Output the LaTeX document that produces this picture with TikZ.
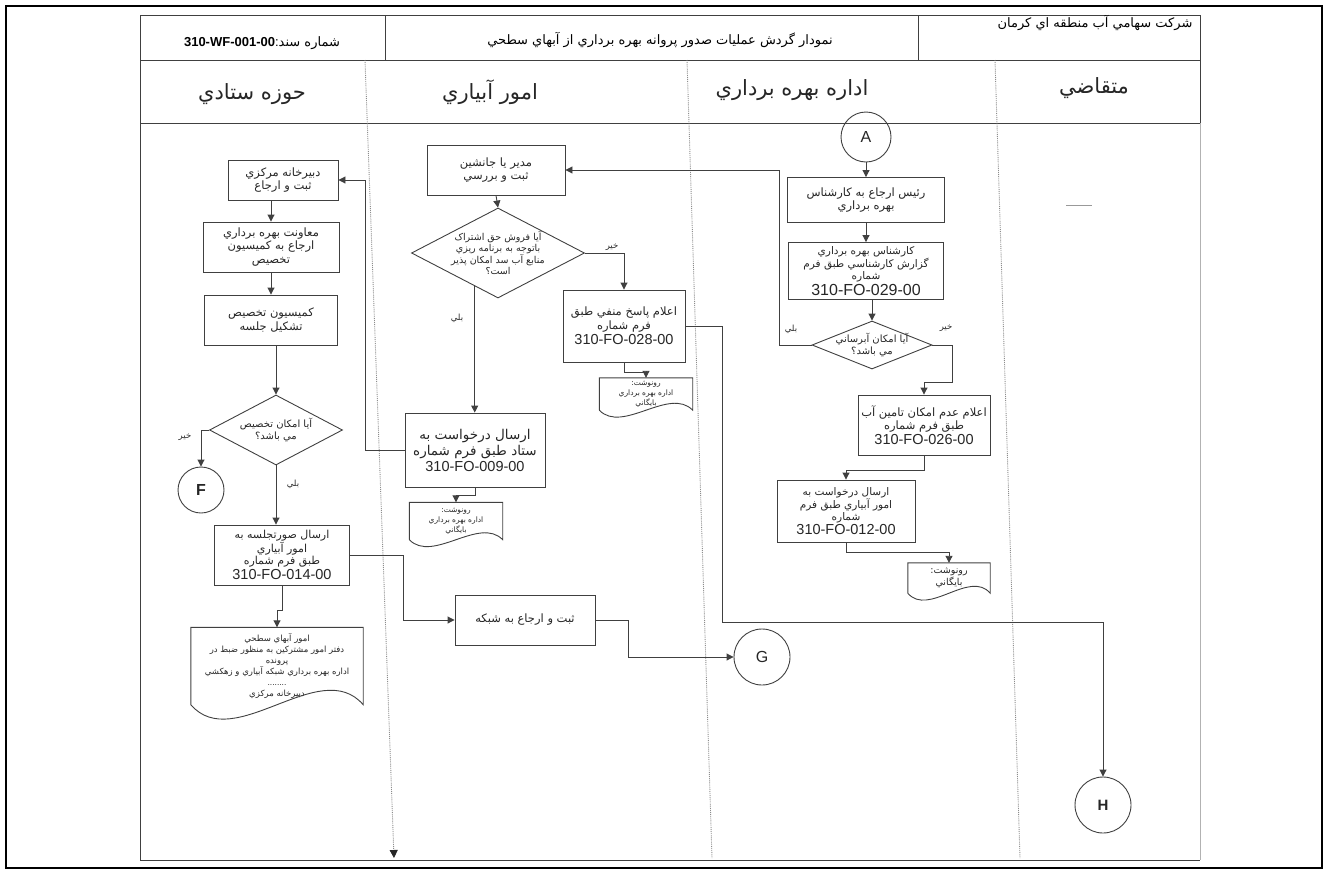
\documentclass[tikz,border=0pt]{standalone}
\usepackage{fontspec}
\setmainfont{Liberation Sans}
\newfontfamily\arabicfont[Script=Arabic]{DejaVu Sans}
\TeXXeTstate=1
\usetikzlibrary{positioning, arrows.meta, shapes.geometric, calc}
\newcommand{\fa}[1]{{\arabicfont\beginR #1\endR}}
\newcommand{\fnum}[1]{{\fontsize{14.5}{16}\selectfont #1}}
\newcommand{\docshape}[2]{%
  \draw[line] (#1.south west) -- (#1.north west) -- (#1.north east) -- (#1.south east)
    .. controls ($(#1.south)!0.5!(#1.south east)+(0,-#2)$) and ($(#1.south)!0.5!(#1.south west)+(0,#2)$) .. (#1.south west);}
\tikzset{
  box/.style={
    draw=black!75,
    rectangle,
    line width=0.9pt,
    align=center,
    inner sep=1pt,
    text=black!85,
    font=\fontsize{11.5}{13.5}\selectfont
  },
  decision/.style={
    draw=black!75,
    diamond,
    line width=0.9pt,
    inner sep=0pt
  },
  dtext/.style={align=center, text=black!85, font=\fontsize{10}{12}\selectfont},
  connector/.style={draw=black!75, circle, line width=0.9pt, text=black!85, font=\fontsize{16}{16}\selectfont},
  docbox/.style={align=center, inner sep=1pt, text=black!85, font=\fontsize{8.5}{11}\selectfont},
  line/.style={draw=black!75, line width=0.9pt},
  flow/.style={line, -{Triangle[length=7pt,width=7pt]}},
  lane/.style={draw=black!45, densely dotted, line width=0.9pt},
  tag/.style={text=black!85, font=\fontsize{8.5}{10}\selectfont},
  lanetitle/.style={text=black!85, font=\fontsize{21}{23}\selectfont}
}

\begin{document}
\begin{tikzpicture}[x=1pt, y=-1pt]
    \useasboundingbox (0,0) rectangle (1328,873);
    \draw[line width=1.6pt] (6,6) rectangle (1322,868);

    % header
    \draw[line] (140,15) rectangle (1200,123);
    \draw[line] (140,60) -- (1200,60);
    \draw[line] (385,15) -- (385,60);
    \draw[line] (918,15) -- (918,60);
    \node[font=\fontsize{13}{15}\selectfont] (docno) at (262,43) {\textbf{310-WF-001-00}:\fa{شماره سند}};
    \node[font=\fontsize{13}{15}\selectfont] (title) at (660,40) {\fa{نمودار گردش عمليات صدور پروانه بهره برداري از آبهاي سطحي}};
    \node[font=\fontsize{13}{15}\selectfont, anchor=east] (company) at (1196,23) {\fa{شرکت سهامي آب منطقه اي کرمان}};

    % lanes
    \node[lanetitle] (staff) at (252,94) {\fa{حوزه ستادي}};
    \node[lanetitle] (irrig) at (490,92) {\fa{امور آبياري}};
    \node[lanetitle] (oper) at (792,90) {\fa{اداره بهره برداري}};
    \node[lanetitle] (client) at (1094,88) {\fa{متقاضي}};
    \draw[line] (140,123) -- (140,860) -- (1200,860);
    \draw[black!30] (1200,123) -- (1200,860);
    \draw[lane, -{Triangle[length=8pt,width=8pt,black!85]}] (365,60) -- (394,858);
    \draw[lane] (687,60) -- (712,858);
    \draw[lane] (995,60) -- (1020,858);
    \draw[black!40] (1066,205) -- (1092,205);

    % حوزه ستادي
    \node[box, minimum width=110, minimum height=40] (dabir) at (283,180) {\fa{دبيرخانه مرکزي}\\\fa{ثبت و ارجاع}};
    \node[box, minimum width=136, minimum height=50] (moaven) at (271,247) {\fa{معاونت بهره برداري}\\\fa{ارجاع به کميسيون}\\\fa{تخصيص}};
    \node[box, minimum width=133, minimum height=50] (komision) at (271,320) {\fa{کميسيون تخصيص}\\\fa{تشکيل جلسه}};
    \node[decision, minimum width=133, minimum height=70] (dia1) at (276,430) {};
    \node[dtext] (dia1txt) at (dia1) {\fa{آيا امکان تخصيص}\\\fa{مي باشد؟}};
    \node[connector, minimum size=46, font=\fontsize{16}{16}\selectfont\bfseries] (fnode) at (201,490) {F};
    \node[box, minimum width=135, minimum height=60, font=\fontsize{11}{12.5}\selectfont] (sorat) at (282,555) {\fa{ارسال صورتجلسه به}\\\fa{امور آبياري}\\\fa{طبق فرم شماره}\\[1pt]\fnum{310-FO-014-00}};
    \node[docbox, minimum width=172, minimum height=77] (doc1) at (277,666) {\fa{امور آبهاي سطحي}\\\fa{دفتر امور مشترکين به منظور ضبط در}\\\fa{پرونده}\\\fa{اداره بهره برداري شبکه آبياري و زهکشي}\\........\\\fa{دبيرخانه مرکزي}};
    \docshape{doc1}{50}

    % امور آبياري
    \node[box, minimum width=138, minimum height=50] (modir) at (496,170) {\fa{مدير يا جانشين}\\\fa{ثبت و بررسي}};
    \node[decision, minimum width=173, minimum height=90] (dia2) at (498,253) {};
    \node[dtext, font=\fontsize{9.5}{11.5}\selectfont] (dia2txt) at (dia2) {\fa{آيا فروش حق اشتراک}\\\fa{باتوجه به برنامه ريزي}\\\fa{منابع آب سد امکان پذير}\\\fa{است؟}};
    \node[box, minimum width=122, minimum height=72] (manfi) at (624,326) {\fa{اعلام پاسخ منفي طبق}\\\fa{فرم شماره}\\[2pt]\fnum{310-FO-028-00}};
    \node[docbox, minimum width=93, minimum height=32, font=\fontsize{7.5}{10}\selectfont] (doc2) at (646,394) {\fa{رونوشت:}\\\fa{اداره بهره برداري}\\\fa{بايگاني}};
    \docshape{doc2}{24}
    \node[box, minimum width=140, minimum height=74, font=\fontsize{13.5}{16}\selectfont] (setad) at (475,450) {\fa{ارسال درخواست به}\\\fa{ستاد طبق فرم شماره}\\\fnum{310-FO-009-00}};
    \node[docbox, minimum width=93, minimum height=37, font=\fontsize{7.5}{10}\selectfont] (doc3) at (456,521) {\fa{رونوشت:}\\\fa{اداره بهره برداري}\\\fa{بايگاني}};
    \docshape{doc3}{24}
    \node[box, minimum width=140, minimum height=50] (shabake) at (525,620) {\fa{ثبت و ارجاع به شبکه}};
    \node[connector, minimum size=56] (gnode) at (762,657) {G};

    % اداره بهره برداري
    \node[connector, minimum size=50] (anode) at (866,137) {A};
    \node[box, minimum width=157, minimum height=45] (rais) at (866,200) {\fa{رئيس ارجاع به کارشناس}\\\fa{بهره برداري}};
    \node[box, minimum width=155, minimum height=57, font=\fontsize{10.5}{11.5}\selectfont] (karshenas) at (866,271) {\fa{کارشناس بهره برداري}\\\fa{گزارش کارشناسي طبق فرم}\\\fa{شماره}\\[1pt]{\fontsize{16}{17}\selectfont 310-FO-029-00}};
    \node[decision, minimum width=120, minimum height=48] (dia3) at (872,345) {};
    \node[dtext] (dia3txt) at (dia3) {\fa{آيا امکان آبرساني}\\\fa{مي باشد؟}};
    \node[box, minimum width=132, minimum height=60] (adam) at (924,425) {\fa{اعلام عدم امکان تامين آب}\\\fa{طبق فرم شماره}\\[1pt]\fnum{310-FO-026-00}};
    \node[box, minimum width=138, minimum height=62, font=\fontsize{10.5}{11.5}\selectfont] (ersal) at (846,511) {\fa{ارسال درخواست به}\\\fa{امور آبياري طبق فرم}\\\fa{شماره}\\[1pt]\fnum{310-FO-012-00}};
    \node[docbox, minimum width=82, minimum height=30, font=\fontsize{9.5}{11.5}\selectfont] (doc4) at (949,578) {\fa{رونوشت:}\\\fa{بايگاني}};
    \docshape{doc4}{24}
    \node[connector, minimum size=56, font=\fontsize{15}{15}\selectfont\bfseries] (hnode) at (1103,805) {H};

    % labels
    \node[tag] (no1) at (185,437) {\fa{خير}};
    \node[tag] (yes1) at (293,484) {\fa{بلي}};
    \node[tag] (no2) at (612,247) {\fa{خير}};
    \node[tag] (yes2) at (457,318) {\fa{بلي}};
    \node[tag] (yes3) at (791,329) {\fa{بلي}};
    \node[tag] (no3) at (946,328) {\fa{خير}};

    % connectors
    \draw[flow] (moaven.north |- dabir.south) -- (moaven.north);
    \draw[flow] (moaven.south) -- (komision.north);
    \draw[flow] (dia1.north |- komision.south) -- (dia1.north);
    \draw[flow] (dia1.west) -| (fnode.north);
    \draw[flow] (dia1.south) -- (dia1.south |- sorat.north);
    \draw[flow] (sorat.south) -- ++(0,25) -| (doc1.north);
    \draw[flow] (sorat.east) -- ++(53,0) |- (shabake.west);
    \draw[flow] (shabake.east) -- ++(33,0) |- (gnode.west);
    \draw[flow] (setad.west) -- ++(-39,0) |- (dabir.east);
    \draw[flow] (setad.south) -- ++(0,8) -| (doc3.north);
    \draw[flow] (modir.south) -- (dia2.north);
    \draw[flow] (dia2.east) -| (manfi.north);
    \draw[flow] (dia2.-125) -- (dia2.-125 |- setad.north);
    \draw[flow] (manfi.east) -- ++(37,0) -- ++(0,296) -| (hnode.north);
    \draw[flow] (manfi.south) -- ++(0,10) -| (doc2.north);
    \draw[flow] (anode.south) -- (rais.north);
    \draw[flow] (rais.south) -- (karshenas.north);
    \draw[flow] (dia3.north |- karshenas.south) -- (dia3.north);
    \draw[flow] (dia3.west) -- ++(-32,0) |- (modir.east);
    \draw[flow] (dia3.east) -- ++(20,0) -- ++(0,37) -| (adam.north);
    \draw[flow] (adam.south) -- ++(0,15) -| (ersal.north);
    \draw[flow] (ersal.south) -- ++(0,10) -| (doc4.north);
\end{tikzpicture}
\end{document}
